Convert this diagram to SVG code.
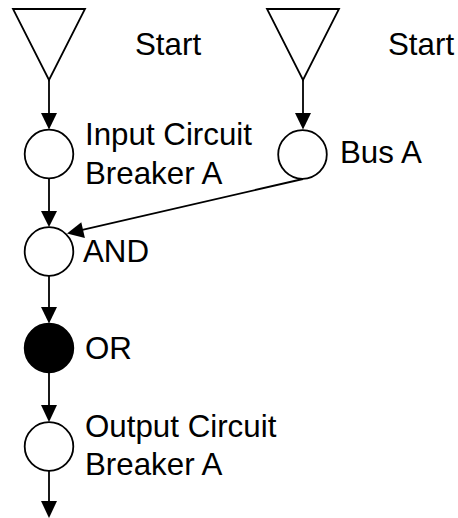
<svg xmlns="http://www.w3.org/2000/svg" width="458" height="518" viewBox="0 0 458 518">
  <style>
    .shape { fill: #ffffff; stroke: #000000; stroke-width: 1.8; }
    .filled { fill: #000000; stroke: #000000; stroke-width: 1.8; }
    .edge { fill: none; stroke: #000000; stroke-width: 1.8; }
    .head { fill: #000000; stroke: none; }
    .label { font-family: "Liberation Sans", Arial, sans-serif; font-size: 31.3px; fill: #000000; }
  </style>
  <rect width="458" height="518" fill="#ffffff"/>

  <g id="connectors">
    <line class="edge" x1="49" y1="80" x2="49" y2="116"/>
    <polygon class="head" points="41,113 57,113 49,129.5"/>
    <line class="edge" x1="303" y1="80" x2="303" y2="116"/>
    <polygon class="head" points="295,113 311,113 303,129.5"/>
    <line class="edge" x1="49" y1="178.5" x2="49" y2="214"/>
    <polygon class="head" points="41,211 57,211 49,227"/>
    <line class="edge" x1="303" y1="179" x2="78" y2="230.8"/>
    <polygon class="head" points="67,233.5 81.3,222.3 84.9,237.9"/>
    <line class="edge" x1="49" y1="275.5" x2="49" y2="310"/>
    <polygon class="head" points="41,307 57,307 49,323.5"/>
    <line class="edge" x1="49" y1="372.5" x2="49" y2="408"/>
    <polygon class="head" points="41,405 57,405 49,422"/>
    <line class="edge" x1="49" y1="471" x2="49" y2="504"/>
    <polygon class="head" points="41,501 57,501 49,518"/>
  </g>

  <g id="start-a">
    <polygon class="shape" points="13,9 85,9 49,80"/>
    <text class="label" x="135" y="55">Start</text>
  </g>

  <g id="start-b">
    <polygon class="shape" points="267,9 339,9 303,80"/>
    <text class="label" x="388" y="55">Start</text>
  </g>

  <g id="input-breaker">
    <circle class="shape" cx="49" cy="154" r="24.3"/>
    <text class="label" x="85" y="145">Input Circuit</text>
    <text class="label" x="85" y="184">Breaker A</text>
  </g>

  <g id="bus-a">
    <circle class="shape" cx="302.5" cy="154.5" r="24.3"/>
    <text class="label" x="340" y="163">Bus A</text>
  </g>

  <g id="and-gate">
    <circle class="shape" cx="49" cy="251.5" r="24.3"/>
    <text class="label" x="83" y="262">AND</text>
  </g>

  <g id="or-gate">
    <circle class="filled" cx="49" cy="348" r="24.3"/>
    <text class="label" x="85" y="359">OR</text>
  </g>

  <g id="output-breaker">
    <circle class="shape" cx="49" cy="446.5" r="24.3"/>
    <text class="label" x="85" y="437">Output Circuit</text>
    <text class="label" x="85" y="475">Breaker A</text>
  </g>
</svg>
